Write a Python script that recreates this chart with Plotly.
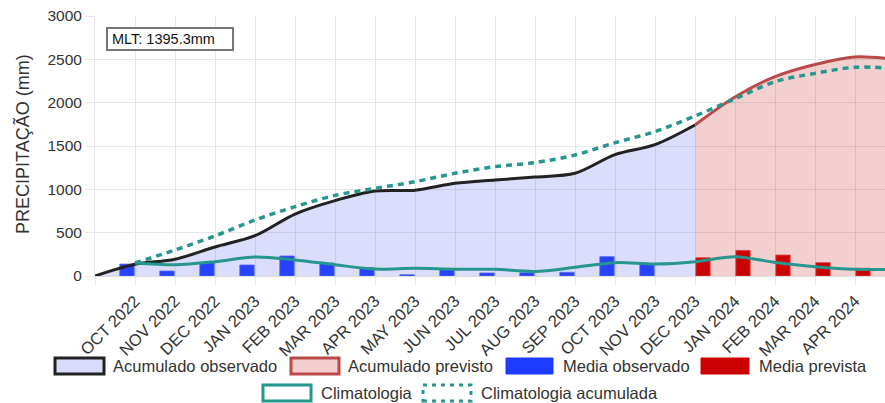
import plotly.graph_objects as go

# ---------------- data ----------------
labels = ["", "OCT 2022", "NOV 2022", "DEC 2022", "JAN 2023", "FEB 2023", "MAR 2023",
          "APR 2023", "MAY 2023", "JUN 2023", "JUL 2023", "AUG 2023", "SEP 2023",
          "OCT 2023", "NOV 2023", "DEC 2023", "JAN 2024", "FEB 2024", "MAR 2024",
          "APR 2024", ""]

media_observado = [None, 138, 58, 153, 127, 231, 150, 96, 15, 77, 35, 38, 43,
                   223, 135, None, None, None, None, None, None]
media_prevista = [None, None, None, None, None, None, None, None, None, None, None,
                  None, None, None, None, 211, 296, 242, 154, 89, None]
climatologia = [None, 150, 130, 165, 220, 185, 130, 80, 88, 78, 77, 52, 100,
                154, 138, 165, 223, 156, 108, 78, 77]
acumulado_observado = [0, 135, 193, 335, 465, 715, 870, 980, 990, 1069, 1108, 1142,
                       1185, 1400, 1515, 1742, None, None, None, None, None]
acumulado_previsto = [None, None, None, None, None, None, None, None, None, None,
                      None, None, None, None, None, 1742, 2065, 2300, 2440, 2528, 2500]
climatologia_acumulada = [None, 150, 300, 462, 646, 800, 930, 1012, 1088, 1185, 1262,
                          1308, 1396, 1538, 1666, 1846, 2045, 2242, 2338, 2408, 2395]
mlt_text = "MLT: 1395.3mm"
y_ticks = [0, 500, 1000, 1500, 2000, 2500, 3000]

x = list(range(len(labels)))

# ---------------- styling ----------------
FONT = "Liberation Sans, Arial, Helvetica, sans-serif"
GRID = "#e6e6e6"
TEAL = "#26968f"
BLACK = "#222222"
RED_LINE = "#b94a48"
BLUE = "#1e3cff"
RED = "#cc0000"
FILL_OBS = "rgba(70,90,230,0.2)"
FILL_PREV = "rgba(195,20,20,0.2)"

W, H = 885, 403
PL, PT, PR, PB = 95, 16, 885, 276  # plot area pixels


def px(v):
    return (v - PL) / (PR - PL)


def py(v):
    return (PB - v) / (PB - PT)


fig = go.Figure()

fig.add_trace(go.Scatter(x=x, y=acumulado_observado, mode="lines", fill="tozeroy",
                         fillcolor=FILL_OBS, line=dict(color=BLACK, width=3, shape="spline", smoothing=0.9),
                         showlegend=False, hoverinfo="skip"))
fig.add_trace(go.Scatter(x=x, y=acumulado_previsto, mode="lines", fill="tozeroy",
                         fillcolor=FILL_PREV, line=dict(color=RED_LINE, width=3, shape="spline", smoothing=0.9),
                         showlegend=False, hoverinfo="skip"))
fig.add_trace(go.Bar(x=x, y=media_observado, marker=dict(color=BLUE, line=dict(color="rgba(90,110,255,0.8)", width=1)),
                     showlegend=False, hoverinfo="skip"))
fig.add_trace(go.Bar(x=x, y=media_prevista, marker=dict(color=RED, line=dict(color="rgba(230,80,80,0.8)", width=1)),
                     showlegend=False, hoverinfo="skip"))
fig.add_trace(go.Scatter(x=x, y=climatologia, mode="lines",
                         line=dict(color=TEAL, width=3, shape="spline", smoothing=0.9),
                         showlegend=False, hoverinfo="skip"))
fig.add_trace(go.Scatter(x=x, y=climatologia_acumulada, mode="lines",
                         line=dict(color=TEAL, width=3.5, shape="spline", smoothing=0.9, dash="6px,5px"),
                         showlegend=False, hoverinfo="skip"))

fig.update_layout(
    width=W, height=H,
    margin=dict(l=PL, r=W - PR, t=PT, b=H - PB),
    paper_bgcolor="white", plot_bgcolor="white",
    barmode="group", bargap=0.2, bargroupgap=0.1,
    font=dict(family=FONT, size=15, color="#333333"),
    xaxis=dict(range=[0, 19.75], tickmode="array", tickvals=x, ticktext=labels,
               tickangle=-45, showgrid=True, gridcolor=GRID, gridwidth=1,
               ticks="outside", ticklen=8, tickcolor=GRID, zeroline=False,
               tickfont=dict(size=16.5, color="#333333"), showline=False),
    yaxis=dict(range=[0, 3000], tickmode="array", tickvals=y_ticks,
               showgrid=True, gridcolor=GRID, gridwidth=1, ticks="outside",
               ticklen=9, tickcolor=GRID, zeroline=True, zerolinecolor="#dddddd",
               zerolinewidth=1, showline=True, linecolor=GRID,
               tickfont=dict(size=15.5, color="#333333")),
)

shapes = []
annotations = []

# Y axis title
annotations.append(dict(text="PRECIPITAÇÃO (mm)", xref="paper", yref="paper",
                        x=px(22), y=py(144), textangle=-90, showarrow=False,
                        font=dict(size=18, color="#333333", family=FONT),
                        xanchor="center", yanchor="middle"))

# MLT box
shapes.append(dict(type="rect", xref="paper", yref="paper", x0=px(107), x1=px(233),
                   y0=py(50), y1=py(28), line=dict(color="#777777", width=2),
                   fillcolor="white", layer="above"))
annotations.append(dict(text=mlt_text, xref="paper", yref="paper", x=px(110), y=py(39),
                        xanchor="left", yanchor="middle", showarrow=False,
                        font=dict(size=14.5, color="#111111", family=FONT)))

# Custom legend
legend_items = [
    # (box_x0, box_x1, text_x, row_center_y, fill, border, dash, label)
    (55, 104, 111, 366, "rgb(216,220,250)", BLACK, None, "Acumulado observado"),
    (291, 339, 346, 366, "rgb(242,207,207)", RED_LINE, None, "Acumulado previsto"),
    (506, 553, 561, 366, BLUE, BLUE, None, "Media observado"),
    (701, 749, 757, 366, RED, RED, None, "Media prevista"),
    (263, 311, 319, 393, "white", TEAL, None, "Climatologia"),
    (423, 471, 479, 393, "white", TEAL, "dot", "Climatologia acumulada"),
]
for bx0, bx1, tx, cy, fill, border, dash, label in legend_items:
    lw = 3 if border not in (BLUE, RED) else 1
    line = dict(color=border, width=lw)
    if dash:
        line["dash"] = "4px,5px"
    shapes.append(dict(type="rect", xref="paper", yref="paper",
                       x0=px(bx0), x1=px(bx1), y0=py(cy + 8), y1=py(cy - 8),
                       fillcolor=fill, line=line, layer="above"))
    annotations.append(dict(text=label, xref="paper", yref="paper", x=px(tx), y=py(cy),
                            xanchor="left", yanchor="middle", showarrow=False,
                            font=dict(size=16.5, color="#333333", family=FONT)))

fig.update_layout(shapes=shapes, annotations=annotations)

fig.write_html("out.html", config={"displayModeBar": False},
               post_script="document.body.style.margin='0';")
